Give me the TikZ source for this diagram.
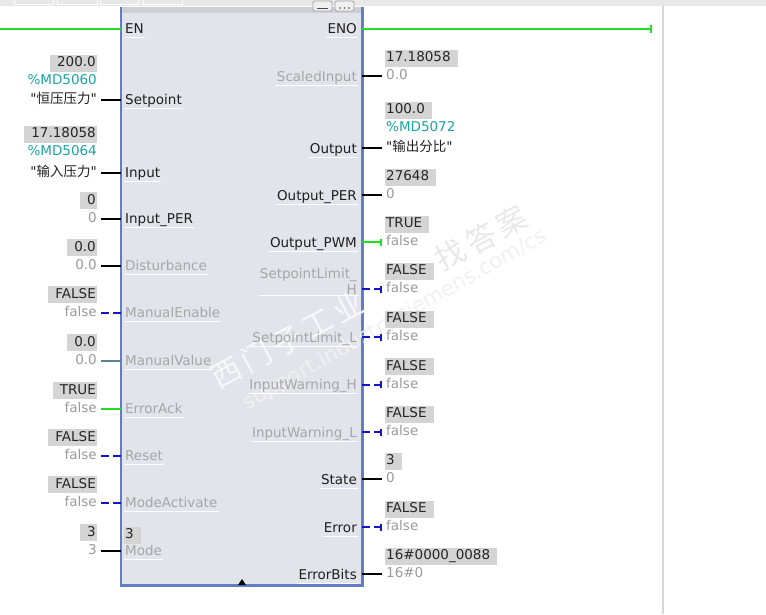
\documentclass[tikz,border=0pt]{standalone}
\usepackage{fontspec}
\setmainfont{DejaVu Sans}[Ligatures=TeXOff]
\newfontfamily\cjk{Noto Sans CJK SC}
\newfontfamily\cjkwm{Noto Sans CJK SC}[LetterSpace=15]
\usepackage{xcolor}
\usetikzlibrary{positioning,arrows.meta}
\definecolor{pindark}{HTML}{1F1F1F}
\definecolor{pingray}{HTML}{A6A6A6}
\definecolor{valgray}{HTML}{9A9A9A}
\definecolor{tagteal}{HTML}{1AA3A3}
\definecolor{boxgray}{HTML}{D4D4D4}
\definecolor{boxtext}{HTML}{262626}
\definecolor{boolblue}{HTML}{1414CC}
\definecolor{okgreen}{HTML}{22DD22}
\definecolor{steelwire}{HTML}{5C7F94}
\definecolor{fbfill}{HTML}{E3E4EB}
\definecolor{fbtop}{HTML}{CDCED6}
\definecolor{fbedge}{HTML}{5F7EC6}
\definecolor{stripgray}{HTML}{E8E8E8}
\definecolor{sepgray}{HTML}{D6D7DF}

\begin{document}
\begin{tikzpicture}[x=1pt, y=1pt, font=\fontsize{13.5}{16}\selectfont,
  pinbase/.style={inner sep=1pt, text=pindark,
    append after command={(\tikzlastnode.south west) edge[draw=white, line width=0.8pt] (\tikzlastnode.south east)}},
  pin/.style={pinbase, text height=10pt, text depth=3pt},
  pinoff/.style={pin, text=pingray},
  val/.style={inner sep=1pt, text height=10pt, text depth=3pt, text=valgray},
  tag/.style={val, text=tagteal},
  lbox/.style={val, fill=boxgray, text=boxtext, inner ysep=2pt, execute at begin node={\hspace*{6pt}}},
  rbox/.style={val, fill=boxgray, text=boxtext, inner ysep=2pt, execute at end node={\hspace*{6pt}}},
  wire/.style={line width=2pt, draw=black},
  bwire/.style={line width=2pt, draw=boolblue, dash pattern=on 8pt off 4pt},
  gwire/.style={line width=2.5pt, draw=okgreen},
  swire/.style={line width=2pt, draw=steelwire},
  endbar/.style={-{Bar[width=7pt, line width=2pt]}},
  gwireR/.style={gwire, endbar},
  bwireR/.style={bwire, endbar},
  wmark/.style={text=black!9, inner sep=0pt}]
\useasboundingbox (0,0) rectangle (766,-614);
% editor frame
\fill[stripgray] (0,0) rectangle (766,-6);
\foreach \a/\b in {14/53,57/97,100/138,143/182}
  \draw[white, line width=0.8pt] (\a,0) -- (\a,-4) -- (\b,-4) -- (\b,0);
\draw[sepgray, line width=1.5pt] (663,-6) -- (663,-614);

% PID block
\node[fill=fbfill, minimum width=241, minimum height=578, inner sep=0pt, anchor=north west] (fb) at (121,-7) {};
\fill[fbtop] (fb.north west) rectangle ([yshift=-6pt]fb.north east);
\draw[fbedge, line width=2.5pt] (fb.north west) -- (fb.south west) -- (fb.south east) -- (fb.north east);
\draw[gray!70, fill=white!88!gray, rounded corners=1.5pt, line width=0.8pt] (313,-1) rectangle (332,-11);
\draw[gray!70, fill=white!88!gray, rounded corners=1.5pt, line width=0.8pt] (335,-1) rectangle (354,-11);
\draw[black!70, line width=1pt] (317,-8) -- (328,-8);
\foreach \d in {340,344.5,349} \fill[black!70] (\d,-8) circle (0.8pt);
\fill[black] (238,-585) -- (246,-585) -- (242,-579) -- cycle;

% watermark
\node[wmark, text=white!75!fbfill, rotate=28, font=\fontsize{30}{30}\selectfont\cjkwm] (wmA) at (287,-340) {西门子工业};
\node[wmark, rotate=28, font=\fontsize{30}{30}\selectfont\cjkwm] (wmB) at (481,-238) {找答案};
\node[wmark, text=black!6, rotate=29.5, font=\fontsize{21}{21}\selectfont] (wmC) at (395,-320) {support.industry.siemens.com/cs};

% enable rail
\node[pin, anchor=west] (pEN) at (124,-30) {EN};
\node[pin, anchor=east] (pENO) at (358,-30) {ENO};
\coordinate (railL) at (0,-29);
\coordinate (railR) at (652,-29);
\draw[gwire] (railL) -- (railL -| fb.west);
\draw[gwire, -{Bar[width=8pt, line width=2.5pt]}] (railR -| fb.east) -- (railR);

% inputs with tags
\node[lbox, anchor=east] (bsp) at (97,-63) {200.0};
\node[tag, anchor=east] (tsp) at (98,-81) {\%MD5060};
\node[val, text=pindark, anchor=east] (vsp) at (98,-100) {"{\cjk 恒压压力}"};
\node[pin, anchor=west] (psp) at (124,-101) {Setpoint};
\draw[wire] ([xshift=3pt]vsp.east) -- (vsp.east -| fb.west);

\node[lbox, anchor=east] (bin) at (97,-134) {17.18058};
\node[tag, anchor=east] (tin) at (98,-152) {\%MD5064};
\node[val, text=pindark, anchor=east] (vin) at (98,-172.5) {"{\cjk 输入压力}"};
\node[pin, anchor=west] (pin) at (124,-173.5) {Input};
\draw[wire] ([xshift=3pt]vin.east) -- (vin.east -| fb.west);

% remaining inputs
\foreach \nm/\y/\bv/\v/\lab/\ls/\ws in {
  iper/219/0/0/Input\_PER/pin/wire,
  dist/266/0.0/0.0/Disturbance/pinoff/wire,
  man/313/FALSE/false/ManualEnable/pinoff/bwire,
  mval/361/0.0/0.0/ManualValue/pinoff/swire,
  eack/409/TRUE/false/ErrorAck/pinoff/gwire,
  rst/456/FALSE/false/Reset/pinoff/bwire,
  mact/503/FALSE/false/ModeActivate/pinoff/bwire,
  mode/551/3/3/Mode/pinoff/wire}{
  \node[lbox, anchor=east] (b\nm) at (97,-\y+18.5) {\bv};
  \node[val, anchor=east] (v\nm) at (98,-\y) {\v};
  \node[\ls, anchor=west] (p\nm) at (124,-\y-1) {\lab};
  \draw[\ws] ([xshift=3pt]v\nm.east) -- (v\nm.east -| fb.west);
}
\node[rbox, anchor=west] (bmodein) at (124,-535) {3};

% output with tag
\node[rbox, anchor=west] (bout) at (385,-110) {100.0};
\node[tag, anchor=west] (tout) at (385,-128) {\%MD5072};
\node[val, text=pindark, anchor=west] (vout) at (385,-148) {"{\cjk 输出分比}"};
\node[pin, anchor=east] (pout) at (358,-149.5) {Output};
\draw[wire] (vout.west -| fb.east) -- ([xshift=-3pt]vout.west);

% two-line output label
\node[rbox, anchor=west] (bslh) at (385,-271) {FALSE};
\node[val, anchor=west] (vslh) at (385,-289) {false};
\node[pinbase, text=pingray, align=right, anchor=east] (pslh) at (358,-281) {SetpointLimit\_\\H};
\draw[bwireR] (vslh.west -| fb.east) -- ([xshift=-3pt]vslh.west);

% remaining outputs
\foreach \nm/\y/\bv/\v/\lab/\ls/\ws in {
  sci/76/17.18058/0.0/ScaledInput/pinoff/wire,
  oper/195/27648/0/Output\_PER/pin/wire,
  opwm/242/TRUE/false/Output\_PWM/pin/gwireR,
  sll/337/FALSE/false/SetpointLimit\_L/pinoff/bwireR,
  iwh/384.5/FALSE/false/InputWarning\_H/pinoff/bwireR,
  iwl/432/FALSE/false/InputWarning\_L/pinoff/bwireR,
  st/479/3/0/State/pin/wire,
  err/527/FALSE/false/Error/pin/bwireR,
  ebit/574/16\#0000\_0088/16\#0/ErrorBits/pin/wire}{
  \node[rbox, anchor=west] (b\nm) at (385,-\y+18) {\bv};
  \node[val, anchor=west] (v\nm) at (385,-\y) {\v};
  \node[\ls, anchor=east] (p\nm) at (358,-\y-1.5) {\lab};
  \draw[\ws] (v\nm.west -| fb.east) -- ([xshift=-3pt]v\nm.west);
}
\end{tikzpicture}
\end{document}
